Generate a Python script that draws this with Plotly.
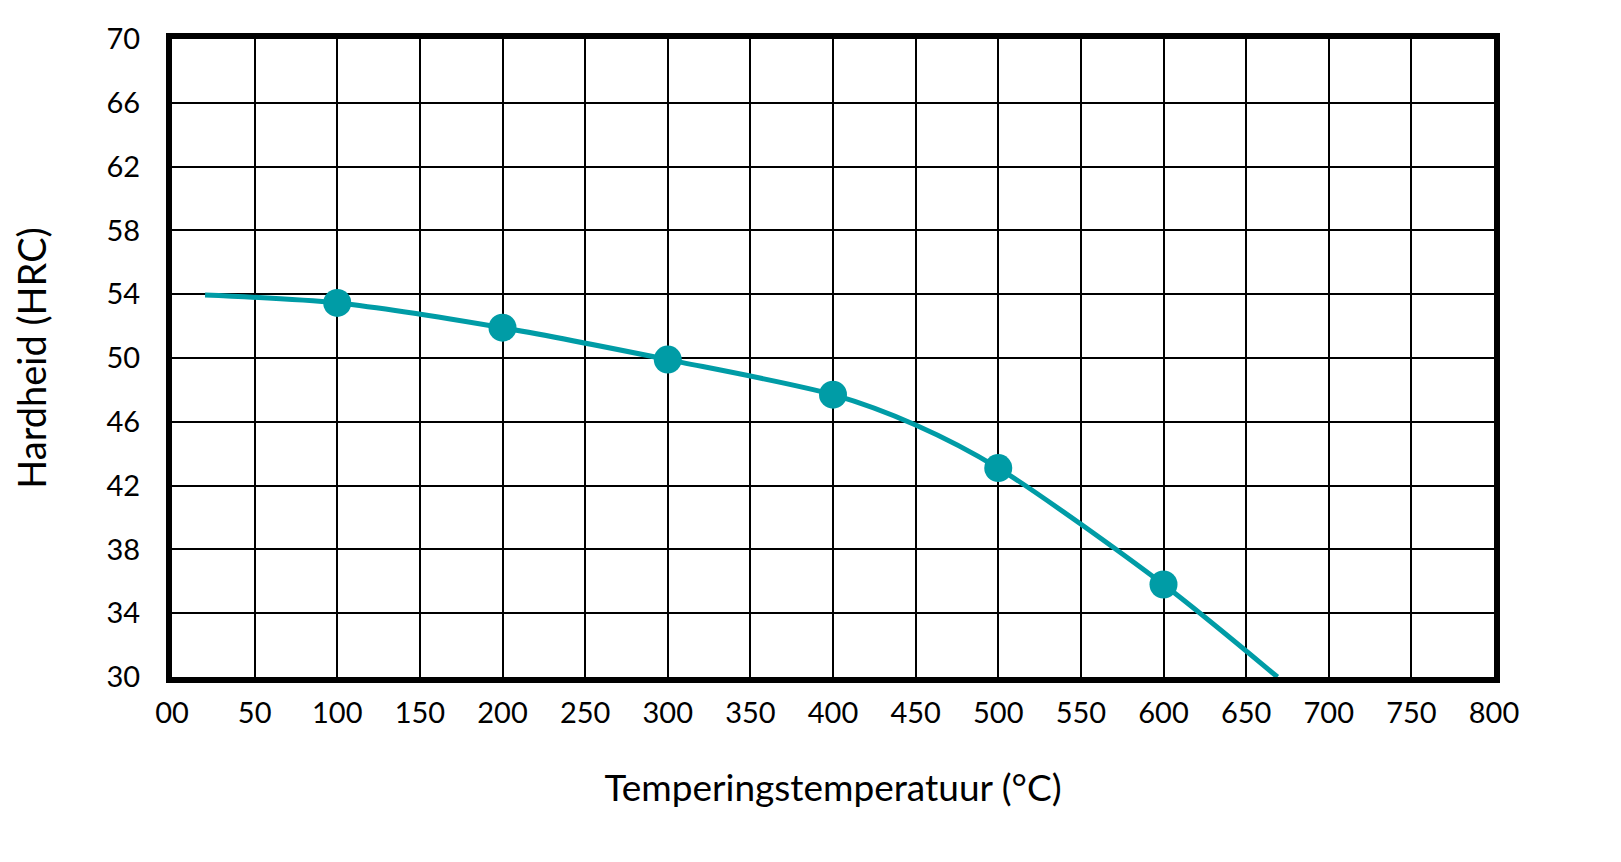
import plotly.graph_objects as go

# Data
curve_x = [20, 100, 200, 300, 400, 450, 500, 600, 669]
curve_y = [53.95, 53.45, 51.9, 49.9, 47.7, 45.8, 43.1, 35.8, 30]
marker_x = [100, 200, 300, 400, 500, 600]
marker_y = [53.45, 51.9, 49.9, 47.7, 43.1, 35.8]
x_ticks = [0, 50, 100, 150, 200, 250, 300, 350, 400, 450, 500, 550, 600, 650, 700, 750, 800]
x_tick_labels = ["00", "50", "100", "150", "200", "250", "300", "350", "400", "450",
                 "500", "550", "600", "650", "700", "750", "800"]
y_ticks = [30, 34, 38, 42, 46, 50, 54, 58, 62, 66, 70]
x_title = "Temperingstemperatuur (°C)"
y_title = "Hardheid (HRC)"

TEAL = "#009ca6"
FONT = "Lato"

fig = go.Figure()
fig.add_trace(go.Scatter(
    x=curve_x, y=curve_y, mode="lines",
    line=dict(color=TEAL, width=5, shape="spline", smoothing=0.8),
    hoverinfo="skip", showlegend=False, cliponaxis=True,
))
fig.add_trace(go.Scatter(
    x=marker_x, y=marker_y, mode="markers",
    marker=dict(color=TEAL, size=28, line=dict(width=0)),
    showlegend=False,
))

# page body has an 8px margin, so the figure is sized to fit the window
fig.update_layout(
    width=1613, height=854,
    margin=dict(l=163, r=127, t=25, b=185),
    paper_bgcolor="white", plot_bgcolor="white",
    font=dict(family=FONT, color="black", size=28),
    xaxis=dict(
        range=[0, 800], tickvals=x_ticks, ticktext=x_tick_labels,
        showgrid=True, gridcolor="black", gridwidth=2,
        showline=True, linecolor="black", linewidth=6, mirror=True,
        zeroline=False, ticks="", ticklabelstandoff=5,
        tickfont=dict(size=29, family=FONT),
        title=dict(text=x_title, font=dict(size=37, family=FONT), standoff=49),
    ),
    yaxis=dict(
        range=[30, 70], tickvals=y_ticks,
        showgrid=True, gridcolor="black", gridwidth=2,
        showline=True, linecolor="black", linewidth=6, mirror=True,
        zeroline=False, ticks="", ticklabelstandoff=20,
        tickfont=dict(size=29, family=FONT),
        title=dict(text=y_title, font=dict(size=38, family=FONT), standoff=60),
    ),
)

fig.write_html("out.html")
